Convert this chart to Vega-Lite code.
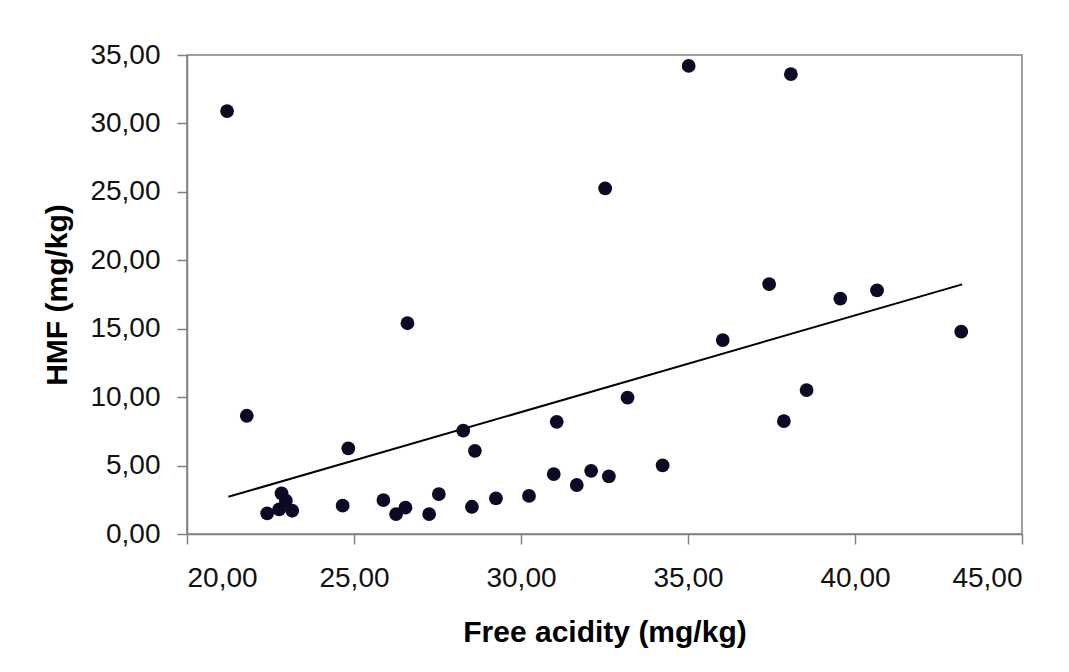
{
  "$schema": "https://vega.github.io/schema/vega-lite/v6.json",
  "width": 835,
  "height": 479,
  "autosize": "none",
  "padding": {"left": 187, "top": 55, "right": 47, "bottom": 138},
  "background": "white",
  "config": {
    "view": {"stroke": "#808080", "strokeWidth": 1.5},
    "font": "Liberation Sans",
    "axis": {
      "grid": false,
      "domainColor": "#808080",
      "domainWidth": 1.5,
      "tickColor": "#808080",
      "tickWidth": 1.5,
      "tickSize": 10,
      "labelFont": "Liberation Sans",
      "labelFontSize": 28,
      "labelColor": "#111111",
      "titleFont": "Liberation Sans",
      "titleFontSize": 30,
      "titleFontWeight": "bold",
      "titleColor": "#000000"
    }
  },
  "datasets": {
    "points": [
      {"acidity": 21.20, "hmf": 30.90},
      {"acidity": 21.79, "hmf": 8.64},
      {"acidity": 22.40, "hmf": 1.51},
      {"acidity": 22.76, "hmf": 1.80},
      {"acidity": 22.83, "hmf": 2.97},
      {"acidity": 22.96, "hmf": 2.43},
      {"acidity": 23.15, "hmf": 1.70},
      {"acidity": 24.66, "hmf": 2.07},
      {"acidity": 24.83, "hmf": 6.26},
      {"acidity": 25.88, "hmf": 2.48},
      {"acidity": 26.26, "hmf": 1.46},
      {"acidity": 26.54, "hmf": 1.92},
      {"acidity": 26.60, "hmf": 15.40},
      {"acidity": 27.25, "hmf": 1.46},
      {"acidity": 27.54, "hmf": 2.92},
      {"acidity": 28.27, "hmf": 7.55},
      {"acidity": 28.53, "hmf": 1.99},
      {"acidity": 28.62, "hmf": 6.08},
      {"acidity": 29.25, "hmf": 2.61},
      {"acidity": 30.24, "hmf": 2.78},
      {"acidity": 30.98, "hmf": 4.38},
      {"acidity": 31.07, "hmf": 8.20},
      {"acidity": 31.67, "hmf": 3.58},
      {"acidity": 32.10, "hmf": 4.62},
      {"acidity": 32.52, "hmf": 25.25},
      {"acidity": 32.63, "hmf": 4.21},
      {"acidity": 33.19, "hmf": 9.96},
      {"acidity": 34.24, "hmf": 5.02},
      {"acidity": 35.02, "hmf": 34.20},
      {"acidity": 36.04, "hmf": 14.17},
      {"acidity": 37.43, "hmf": 18.26},
      {"acidity": 37.87, "hmf": 8.25},
      {"acidity": 38.08, "hmf": 33.60},
      {"acidity": 38.55, "hmf": 10.52},
      {"acidity": 39.56, "hmf": 17.20},
      {"acidity": 40.66, "hmf": 17.80},
      {"acidity": 43.18, "hmf": 14.78}
    ],
    "trend": [
      {"acidity": 21.24, "hmf": 2.72},
      {"acidity": 43.21, "hmf": 18.24}
    ]
  },
  "layer": [
    {
      "data": {"name": "trend"},
      "mark": {"type": "line", "color": "#000000", "strokeWidth": 2},
      "encoding": {
        "x": {"field": "acidity", "type": "quantitative"},
        "y": {"field": "hmf", "type": "quantitative"}
      }
    },
    {
      "data": {"name": "points"},
      "mark": {"type": "circle", "size": 190, "color": "#0a0a24", "opacity": 1},
      "encoding": {
        "x": {
          "field": "acidity",
          "type": "quantitative",
          "scale": {"domain": [20, 45], "nice": false, "zero": false},
          "axis": {
            "title": "Free acidity (mg/kg)",
            "values": [20, 25, 30, 35, 40, 45],
            "labelExpr": "replace(format(datum.value, '.2f'), '.', ',')",
            "labelPadding": 20,
            "titlePadding": 25
          }
        },
        "y": {
          "field": "hmf",
          "type": "quantitative",
          "scale": {"domain": [0, 35], "nice": false},
          "axis": {
            "title": "HMF (mg/kg)",
            "values": [0, 5, 10, 15, 20, 25, 30, 35],
            "labelExpr": "replace(format(datum.value, '.2f'), '.', ',')",
            "labelPadding": 17,
            "titlePadding": 17
          }
        }
      }
    }
  ]
}
